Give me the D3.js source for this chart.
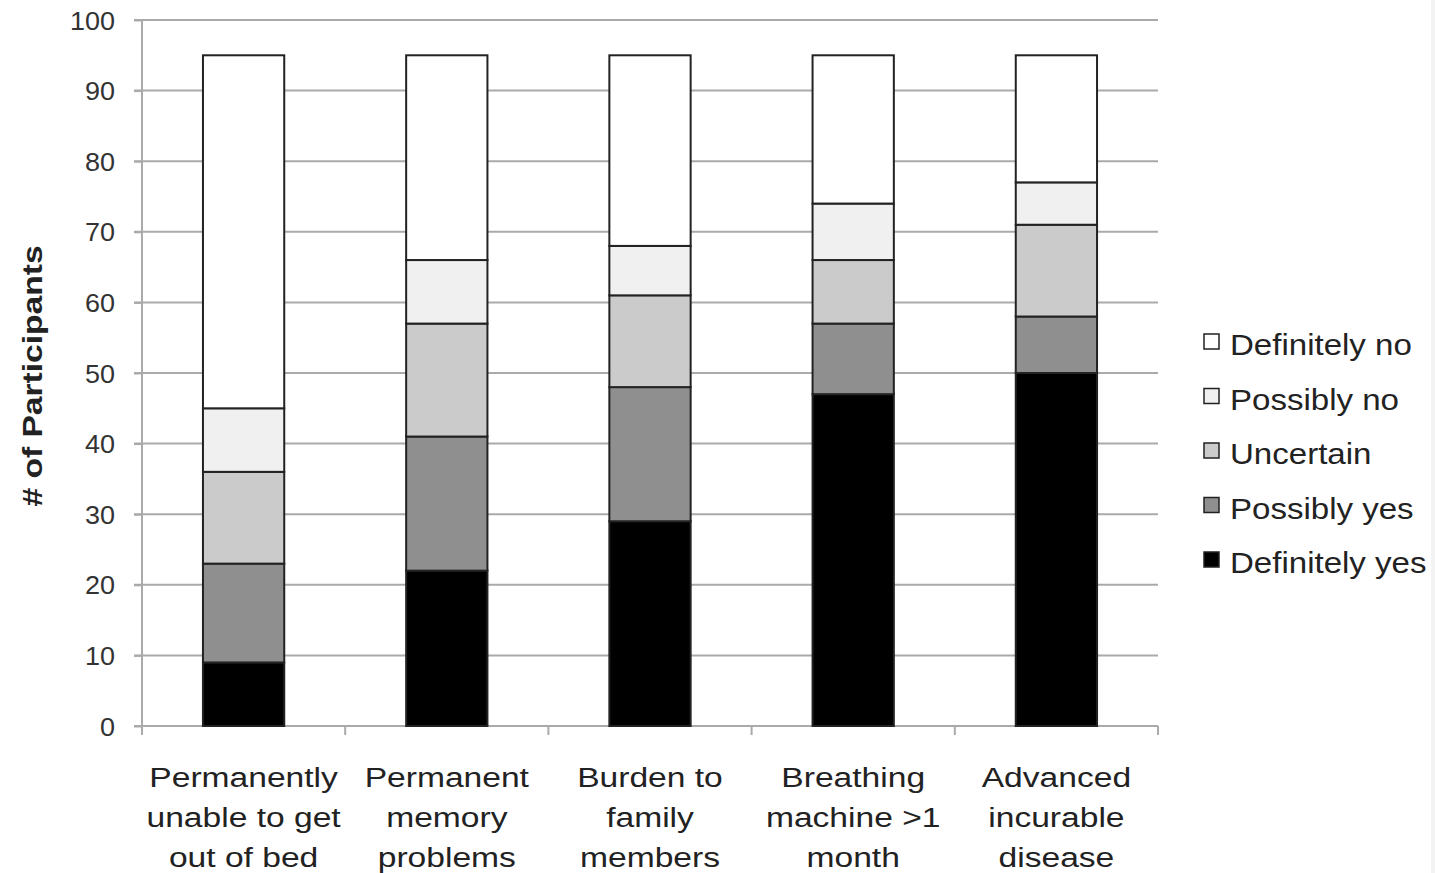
<!DOCTYPE html>
<html><head><meta charset="utf-8">
<script src="https://cdn.jsdelivr.net/npm/d3@7"></script>
<style>body{margin:0;background:#fff;}svg{display:block;font-family:"Liberation Sans",Arial,sans-serif;}</style>
</head><body>
<svg id="c" width="1435" height="873"></svg>
<script>
const categories = [
  ["Permanently","unable to get","out of bed"],
  ["Permanent","memory","problems"],
  ["Burden to","family","members"],
  ["Breathing","machine >1","month"],
  ["Advanced","incurable","disease"]
];
const seriesNames = ["Definitely yes","Possibly yes","Uncertain","Possibly no","Definitely no"];
const definitelyYes = [9, 22, 29, 47, 50];
const possiblyYes   = [14, 19, 19, 10, 8];
const uncertain     = [13, 16, 13, 9, 13];
const possiblyNo    = [9, 9, 7, 8, 6];
const definitelyNo  = [50, 29, 27, 21, 18];
const yTicks = [0,10,20,30,40,50,60,70,80,90,100];
const colors = ["#000000","#8f8f8f","#cbcbcb","#f0f0f0","#ffffff"];

(function(){
const seriesValues = [definitelyYes, possiblyYes, uncertain, possiblyNo, definitelyNo];
const rows = categories.map((c,i)=>{
  const r = {key:i};
  seriesNames.forEach((s,j)=> r[s]=seriesValues[j][i]);
  return r;
});
const stacked = d3.stack().keys(seriesNames)(rows);

const svg = d3.select("#c");
svg.append("rect").attr("x",1431).attr("y",0).attr("width",4).attr("height",873).attr("fill","#f3f3f3");
const pL=142, pR=1158, pT=20, pB=726;
const x = d3.scaleBand().domain(categories.map((c,i)=>i)).range([pL,pR]).paddingInner(0.6).paddingOuter(0.3);
const xb = d3.scaleBand().domain(categories.map((c,i)=>i)).range([pL,pR]);
const y = d3.scaleLinear().domain([0,100]).range([pB,pT]);
const gridC = "#aaaaaa";

// gridlines
svg.append("g").selectAll("line").data(yTicks.filter(t=>t>0)).join("line")
  .attr("x1",134).attr("x2",pR).attr("y1",d=>y(d)).attr("y2",d=>y(d))
  .attr("stroke",gridC).attr("stroke-width",2);

// y axis
const ya = svg.append("g").attr("transform",`translate(${pL},0)`)
  .call(d3.axisLeft(y).tickValues(yTicks).tickSize(8).tickPadding(19));
ya.select(".domain").attr("stroke",gridC).attr("stroke-width",2).attr("d",`M-8,${pT}H0V${pB}`);
ya.selectAll(".tick line").attr("stroke",gridC).attr("stroke-width",2);
ya.selectAll(".tick text")
  .attr("font-size",25).attr("fill","#333").attr("font-family","Liberation Sans, Arial, sans-serif")
  .attr("x",null).attr("dy","0.36em")
  .attr("transform","translate(-27,0) scale(1.08,1)");

// x axis baseline & ticks at boundaries
const boundaries = d3.range(categories.length+1).map(i=> pL + i*xb.step());
svg.append("line").attr("x1",134).attr("x2",pR).attr("y1",pB).attr("y2",pB)
  .attr("stroke",gridC).attr("stroke-width",2);
svg.append("g").selectAll("line").data(boundaries).join("line")
  .attr("x1",d=>d).attr("x2",d=>d).attr("y1",pB).attr("y2",pB+9)
  .attr("stroke",gridC).attr("stroke-width",2);

// bars
svg.append("g").selectAll("g").data(stacked).join("g")
  .attr("fill",(d,i)=>colors[i])
  .selectAll("rect").data(d=>d).join("rect")
  .attr("x",(d,i)=>x(i)).attr("width",x.bandwidth())
  .attr("y",d=>y(d[1])).attr("height",d=>y(d[0])-y(d[1]))
  .attr("stroke","#222").attr("stroke-width",2);

// x labels
const xl = svg.append("g").selectAll("text").data(categories).join("text")
  .attr("text-anchor","middle").attr("font-size",28).attr("fill","#222")
  .attr("transform",(d,i)=>`translate(${xb(i)+xb.bandwidth()/2},787) scale(1.2,1)`);
xl.each(function(lines){
  d3.select(this).selectAll("tspan").data(lines).join("tspan")
    .attr("x",0).attr("y",(d,k)=>k*40).text(d=>d);
});

// y label
svg.append("text").attr("transform","translate(42,376) rotate(-90) scale(1.2,1)")
  .attr("text-anchor","middle").attr("font-size",28).attr("font-weight","bold").attr("fill","#222")
  .text("# of Participants");

// legend
const legendOrder = seriesNames.slice().reverse();
const lg = svg.append("g").selectAll("g").data(legendOrder).join("g")
  .attr("transform",(d,i)=>`translate(1204,${355+i*54.5})`);
lg.append("rect").attr("x",0).attr("y",-21).attr("width",15).attr("height",15)
  .attr("fill",d=>colors[seriesNames.indexOf(d)]).attr("stroke","#222").attr("stroke-width",1.5);
lg.append("text").attr("transform","translate(26,0) scale(1.14,1)")
  .attr("font-size",29).attr("fill","#222").text(d=>d);
})();
</script>
</body></html>
